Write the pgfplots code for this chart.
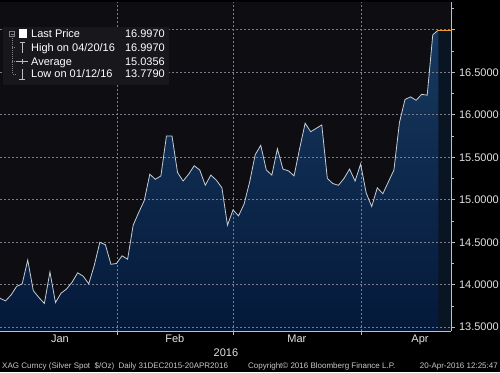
\documentclass[border=0pt]{standalone}
\usepackage{pgfplots}
\pgfplotsset{compat=1.18}
\usepackage{pgfplotstable}
\usepackage{fontspec}
\setmainfont{Liberation Sans}
\usetikzlibrary{shapes.symbols}
\definecolor{plotbg}{HTML}{0E0D12}
\definecolor{legbg}{HTML}{18181C}
\definecolor{gridc}{HTML}{7C7C86}
\definecolor{linec}{HTML}{C5CDD6}
\definecolor{filltop}{HTML}{17395F}
\definecolor{fillbot}{HTML}{04193A}
\definecolor{tailc}{HTML}{0A1524}
\definecolor{lastc}{HTML}{F09A2A}
\definecolor{axc}{HTML}{BFBFBF}
\definecolor{txt}{HTML}{E2E2E2}
\definecolor{foot}{HTML}{C8C8C8}

\pgfplotstableread{
x y
0 13.84
1 13.81
2 13.88
3 13.98
4 14.01
5 14.29
6 13.93
7 13.85
8 13.779
9 14.15
10 13.79
11 13.90
12 13.95
13 14.03
14 14.14
15 14.10
16 14.01
17 14.23
18 14.50
19 14.47
20 14.24
21 14.25
22 14.34
23 14.30
24 14.70
25 14.85
26 14.99
27 15.30
28 15.24
29 15.28
30 15.75
31 15.75
32 15.32
33 15.22
34 15.30
35 15.40
36 15.35
37 15.17
38 15.29
39 15.23
40 15.14
41 14.70
42 14.88
43 14.81
44 14.95
45 15.21
46 15.53
47 15.64
48 15.35
49 15.29
50 15.60
51 15.36
52 15.34
53 15.28
54 15.60
55 15.90
56 15.80
57 15.84
58 15.88
59 15.25
60 15.19
61 15.17
62 15.25
63 15.36
64 15.22
65 15.42
66 15.08
67 14.92
68 15.14
69 15.07
70 15.21
71 15.35
72 15.91
73 16.18
74 16.21
75 16.17
76 16.24
77 16.23
78 16.94
79 16.997
}\silver

\pgfplotstableread{
x y
0 13.453
0 13.84
1 13.81
2 13.88
3 13.98
4 14.01
5 14.29
6 13.93
7 13.85
8 13.779
9 14.15
10 13.79
11 13.90
12 13.95
13 14.03
14 14.14
15 14.10
16 14.01
17 14.23
18 14.50
19 14.47
20 14.24
21 14.25
22 14.34
23 14.30
24 14.70
25 14.85
26 14.99
27 15.30
28 15.24
29 15.28
30 15.75
31 15.75
32 15.32
33 15.22
34 15.30
35 15.40
36 15.35
37 15.17
38 15.29
39 15.23
40 15.14
41 14.70
42 14.88
43 14.81
44 14.95
45 15.21
46 15.53
47 15.64
48 15.35
49 15.29
50 15.60
51 15.36
52 15.34
53 15.28
54 15.60
55 15.90
56 15.80
57 15.84
58 15.88
59 15.25
60 15.19
61 15.17
62 15.25
63 15.36
64 15.22
65 15.42
66 15.08
67 14.92
68 15.14
69 15.07
70 15.21
71 15.35
72 15.91
73 16.18
74 16.21
75 16.17
76 16.24
77 16.23
78 16.94
79 16.997
79 13.453
}\silverarea

\pgfplotstableread{
x y
79 13.453
79 16.997
81.29 16.997
81.29 13.453
}\tail

\begin{document}
\begin{tikzpicture}[x=1pt,y=1pt]
\fill[black] (0,0) rectangle (500,372);
\begin{axis}[
  at={(0,48)}, anchor=south west,
  scale only axis, width=451pt, height=329pt,
  xmin=0, xmax=81.29, ymin=13.453, ymax=17.324,
  axis background/.style={fill=plotbg},
  axis on top,
  axis x line*=bottom, axis y line*=right,
  axis line style={draw=axc, line width=0.8pt, -},
  tick align=outside,
  major tick length=3.5pt, minor tick length=2.5pt,
  tick style={draw=axc, line width=0.7pt},
  ytick={13.5,14,14.5,15,15.5,16,16.5,17},
  yticklabels={13.5000,14.0000,14.5000,15.0000,15.5000,16.0000,16.5000,{}},
  minor ytick={13.75,14.25,14.75,15.25,15.75,16.25,16.75,17.25},
  xtick={21.09,42,65.07},
  xticklabels={,,},
  extra x ticks={10.8,31.5,53.5,75.7},
  extra x tick labels={Jan,Feb,Mar,Apr},
  extra x tick style={major tick length=0pt},
  ticklabel style={font=\fontsize{11}{13}\selectfont, text=txt},
  yticklabel style={xshift=1pt},
  xlabel={2016},
  xlabel style={font=\fontsize{11}{13}\selectfont, text=txt, at={(axis description cs:0.501,0)}, anchor=center, yshift=-22pt},
  clip=true,
]
\addplot[fill=tailc, draw=none] table {\tail};
\addplot[draw=none, top color=filltop, bottom color=fillbot] table {\silverarea};
% dotted grid drawn over the area, as in the reference
\begin{scope}[draw=gridc, line width=1pt, dash pattern=on 2pt off 2pt]
\draw (axis cs:0,13.5) -- (axis cs:81.29,13.5);
\draw (axis cs:0,14) -- (axis cs:81.29,14);
\draw (axis cs:0,14.5) -- (axis cs:81.29,14.5);
\draw (axis cs:0,15) -- (axis cs:81.29,15);
\draw (axis cs:0,15.5) -- (axis cs:81.29,15.5);
\draw (axis cs:0,16) -- (axis cs:81.29,16);
\draw (axis cs:0,16.5) -- (axis cs:81.29,16.5);
\draw (axis cs:0,17) -- (axis cs:81.29,17);
\draw (axis cs:21.09,13.453) -- (axis cs:21.09,17.324);
\draw (axis cs:42,13.453) -- (axis cs:42,17.324);
\draw (axis cs:65.07,13.453) -- (axis cs:65.07,17.324);
\end{scope}
\addplot[draw=linec, line width=0.8pt] table {\silver};
\addplot[draw=lastc, line width=0.9pt] coordinates {(79,16.997) (81.29,16.997)};
\node[signal, signal to=west, signal pointer angle=100, fill=white, text=black,
  font=\fontsize{11}{13}\selectfont, inner xsep=1.5pt, inner ysep=1.5pt, anchor=west]
  at (axis cs:81.29,16.997) {16.9970};
\end{axis}
% legend
\fill[legbg] (3,345) rectangle (169,287);
\draw[gray, line width=0.5pt] (9.5,335.5) rectangle (14.5,340.5);
\draw[gray, line width=0.5pt] (10.5,338) -- (13.5,338);
\fill[white] (18.5,334.3) rectangle (27,342.7);
\draw[gray, line width=0.5pt, dash pattern=on 1pt off 1pt] (12,335.5) -- (12,298) -- (16,298);
\draw[gray, line width=0.5pt, dash pattern=on 1pt off 1pt] (12,324.7) -- (16,324.7);
\draw[gray, line width=0.5pt, dash pattern=on 1pt off 1pt] (12,310.7) -- (15,310.7);
\draw[axc, line width=0.8pt] (22,319) -- (22,330) (19.5,330) -- (24.5,330);
\draw[axc, line width=0.8pt] (16,310.7) -- (28,310.7) (22,308.2) -- (22,313.2);
\draw[axc, line width=0.8pt] (22,303) -- (22,293) (19,293) -- (25,293);
\begin{scope}[every node/.style={font=\fontsize{11}{13}\selectfont, text=white, inner sep=0pt}]
\node[anchor=base west] at (31,334) {Last Price};
\node[anchor=base east] at (165,334) {16.9970};
\node[anchor=base west] at (31,320.7) {High on 04/20/16};
\node[anchor=base east] at (165,320.7) {16.9970};
\node[anchor=base west] at (31,306.7) {Average};
\node[anchor=base east] at (165,306.7) {15.0356};
\node[anchor=base west] at (31,294) {Low on 01/12/16};
\node[anchor=base east] at (165,294) {13.7790};
\end{scope}
% footer
\begin{scope}[every node/.style={font=\fontsize{8}{9}\selectfont, text=foot, inner sep=0pt}]
\node[anchor=base west] at (2,4) {XAG Curncy (Silver Spot \ \$/Oz) \ Daily 31DEC2015-20APR2016};
\node[anchor=base west] at (248,4) {Copyright\textcopyright{} 2016 Bloomberg Finance L.P.};
\node[anchor=base east] at (498,4) {20-Apr-2016 12:25:47};
\end{scope}
\pgfresetboundingbox
\path[use as bounding box] (0,0) rectangle (500,372);
\end{tikzpicture}
\end{document}
